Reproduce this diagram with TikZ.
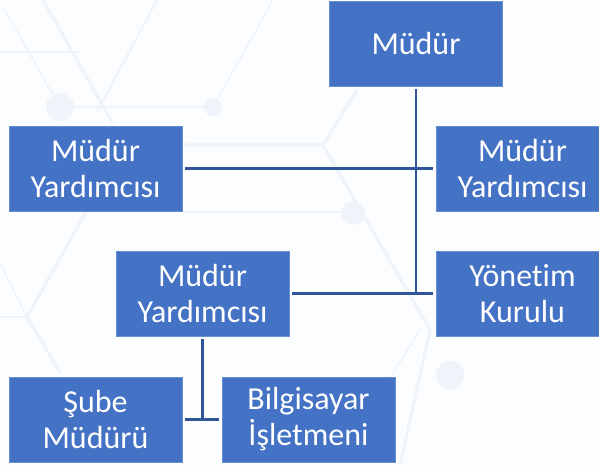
\documentclass[tikz,border=0pt]{standalone}
\usepackage{fontspec}
\setmainfont{Carlito}[Ligatures=CommonOff]
\usetikzlibrary{calc}

\definecolor{boxblue}{HTML}{4472C4}
\definecolor{linkblue}{HTML}{2F5597}
\definecolor{hexline}{HTML}{EEF4FA}
\definecolor{paper}{HTML}{FCFDFE}

\tikzset{
  unit/.style={rectangle, fill=boxblue, draw=boxblue!80!white, line width=0.5pt,
    minimum width=173pt, minimum height=85pt, inner sep=0pt, outer sep=3pt,
    text=white, align=center, font=\fontsize{32}{36}\selectfont},
  link/.style={draw=linkblue, line width=2.2pt},
  hex/.style={draw=hexline, line width=3pt, line cap=round}
}

\begin{document}
\begin{tikzpicture}[x=1pt,y=-1pt]
        \fill[paper] (0,0) rectangle (599,465);
        \useasboundingbox (0,0) rectangle (599,465);
        \clip (0,0) rectangle (599,465);
        % faint background web
        \draw[hex] (43,0) -- (112,122);
        \draw[hex, line width=1.5pt] (3,7) -- (60,107) -- (213,107) -- (273,0);
        \draw[hex, line width=2pt] (157,0) -- (97,112);
        \draw[hex, line width=1.5pt] (0,52) -- (80,52);
        \draw[hex] (185,145) -- (323,145) -- (357,90);
        \draw[hex] (323,145) -- (430,330) -- (400,465);
        \draw[hex, line width=1.5pt] (185,212) -- (340,212);
        \draw[hex] (87,210) -- (27,317) -- (60,372);
        \draw[hex, line width=1.5pt] (0,317) -- (27,317);
        \draw[hex, line width=1.5pt] (0,263) -- (27,317);
        \draw[hex, line width=1.5pt] (420,330) -- (390,378);
        \fill[hexline] (60,107) circle (14);
        \fill[hexline] (213,107) circle (9);
        \fill[hexline] (353,213) circle (12);
        \fill[hexline] (450,375) circle (14);

        \node[unit] at (416,43.5) (mudur) {Müdür};
        \node[unit] at (95.5,168.5) (yrd1) {Müdür\\Yardımcısı};
        \node[unit] at (522.5,168.5) (yrd2) {Müdür\\Yardımcısı};
        \node[unit] at (202.5,293.5) (yrd3) {Müdür\\Yardımcısı};
        \node[unit] at (522.5,293.5) (kurul) {Yönetim\\Kurulu};
        \node[unit] at (95.5,419.5) (sube) {Şube\\Müdürü};
        \node[unit] at (308.5,419.5) (bilgi) {Bilgisayar\\İşletmeni};

        \draw[link] (mudur.south) -- (mudur.south |- kurul.west);
        \draw[link] (yrd1.east) -- (yrd2.west);
        \draw[link] (yrd3.east) -- (kurul.west);
        \draw[link] (yrd3.south) -- (yrd3.south |- sube.east);
        \draw[link] (sube.east) -- (bilgi.west);
    \end{tikzpicture}
\end{document}
